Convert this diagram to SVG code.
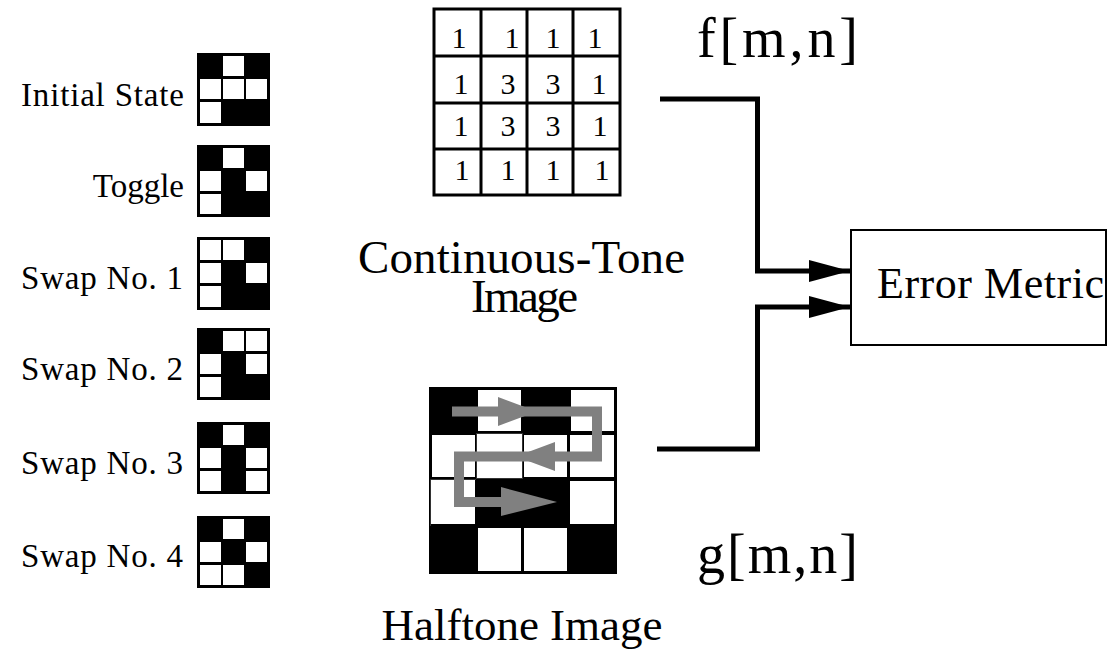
<svg xmlns="http://www.w3.org/2000/svg" width="1111" height="652" viewBox="0 0 1111 652">
  <defs>
    <style>
      .lbl { font-family: "Liberation Serif", "Times New Roman", serif; fill: #000; }
      .small { font-size: 33px; }
      .num { font-size: 30px; text-anchor: middle; }
      .big { font-size: 47px; }
      .sig { font-size: 56px; }
      .conn { fill: none; stroke: #000; stroke-width: 5; stroke-linejoin: miter; }
      .cell { fill: #fff; }
    </style>
    <marker id="arr" viewBox="0 0 41 22" refX="41" refY="11" markerWidth="41" markerHeight="22" markerUnits="userSpaceOnUse" orient="auto">
      <path d="M0,0 L41,11 L0,22 Z" fill="#000"/>
    </marker>
  </defs>

  <rect width="1111" height="652" fill="#fff"/>

  <!-- 3x3 pattern examples -->
  <g id="initial-state">
    <text class="lbl small" x="21" y="106" textLength="163" lengthAdjust="spacing">Initial State</text>
    <rect x="197" y="53" width="73" height="73" fill="#000"/>
    <rect class="cell" x="223" y="56" width="21" height="20"/>
    <rect class="cell" x="200" y="79" width="21" height="20"/>
    <rect class="cell" x="223" y="79" width="21" height="20"/>
    <rect class="cell" x="246" y="79" width="21" height="20"/>
    <rect class="cell" x="200" y="102" width="21" height="21"/>
  </g>
  <g id="toggle">
    <text class="lbl small" x="184" y="197" text-anchor="end">Toggle</text>
    <rect x="197" y="145" width="73" height="72" fill="#000"/>
    <rect class="cell" x="223" y="148" width="21" height="20"/>
    <rect class="cell" x="200" y="171" width="21" height="20"/>
    <rect class="cell" x="246" y="171" width="21" height="20"/>
    <rect class="cell" x="200" y="194" width="21" height="20"/>
  </g>
  <g id="swap-1">
    <text class="lbl small" x="21" y="289" textLength="162" lengthAdjust="spacing">Swap No. 1</text>
    <rect x="197" y="237" width="73" height="73" fill="#000"/>
    <rect class="cell" x="200" y="240" width="21" height="20"/>
    <rect class="cell" x="223" y="240" width="21" height="20"/>
    <rect class="cell" x="200" y="263" width="21" height="20"/>
    <rect class="cell" x="246" y="263" width="21" height="20"/>
    <rect class="cell" x="200" y="286" width="21" height="21"/>
  </g>
  <g id="swap-2">
    <text class="lbl small" x="21" y="380" textLength="162" lengthAdjust="spacing">Swap No. 2</text>
    <rect x="197" y="328" width="73" height="72" fill="#000"/>
    <rect class="cell" x="223" y="331" width="21" height="20"/>
    <rect class="cell" x="246" y="331" width="21" height="20"/>
    <rect class="cell" x="200" y="354" width="21" height="20"/>
    <rect class="cell" x="246" y="354" width="21" height="20"/>
    <rect class="cell" x="200" y="377" width="21" height="20"/>
  </g>
  <g id="swap-3">
    <text class="lbl small" x="21" y="474" textLength="162" lengthAdjust="spacing">Swap No. 3</text>
    <rect x="197" y="422" width="73" height="72" fill="#000"/>
    <rect class="cell" x="223" y="425" width="21" height="20"/>
    <rect class="cell" x="200" y="448" width="21" height="20"/>
    <rect class="cell" x="246" y="448" width="21" height="20"/>
    <rect class="cell" x="200" y="471" width="21" height="20"/>
    <rect class="cell" x="246" y="471" width="21" height="20"/>
  </g>
  <g id="swap-4">
    <text class="lbl small" x="21" y="567" textLength="162" lengthAdjust="spacing">Swap No. 4</text>
    <rect x="197" y="516" width="73" height="72" fill="#000"/>
    <rect class="cell" x="223" y="519" width="21" height="20"/>
    <rect class="cell" x="200" y="542" width="21" height="20"/>
    <rect class="cell" x="246" y="542" width="21" height="20"/>
    <rect class="cell" x="200" y="565" width="21" height="20"/>
    <rect class="cell" x="223" y="565" width="21" height="20"/>
  </g>

  <!-- continuous-tone image f[m,n] -->
  <g id="continuous-tone">
    <g fill="none" stroke="#000" stroke-width="3">
      <rect x="434" y="9" width="186" height="186"/>
      <path d="M481,9 V195 M527,9 V195 M573,9 V195 M434,56 H620 M434,103 H620 M434,149 H620"/>
    </g>
    <g class="lbl num">
      <text x="459" y="48">1</text><text x="512" y="48">1</text><text x="553" y="48">1</text><text x="595" y="48">1</text>
      <text x="461" y="94">1</text><text x="508" y="94">3</text><text x="553" y="94">3</text><text x="599" y="94">1</text>
      <text x="461" y="136">1</text><text x="508" y="136">3</text><text x="553" y="136">3</text><text x="600" y="136">1</text>
      <text x="462" y="180">1</text><text x="508" y="180">1</text><text x="553" y="180">1</text><text x="602" y="180">1</text>
    </g>
    <text class="lbl big" x="358" y="273" textLength="327" lengthAdjust="spacing">Continuous-Tone</text>
    <text class="lbl big" x="471" y="312" textLength="107" lengthAdjust="spacing">Image</text>
    <text class="lbl sig" x="697" y="57" textLength="161" lengthAdjust="spacing">f[m,n]</text>
  </g>

  <!-- halftone image g[m,n] with scan path -->
  <g id="halftone">
    <rect x="429" y="387" width="188" height="187" fill="#000"/>
    <g class="cell">
      <rect x="478" y="390" width="43" height="41"/>
      <rect x="571" y="390" width="43" height="41"/>
      <rect x="432" y="435" width="43" height="42"/>
      <rect x="477" y="434" width="46" height="44"/>
      <rect x="524" y="435" width="43" height="42"/>
      <rect x="570" y="435" width="44" height="42"/>
      <rect x="431" y="480" width="44" height="44"/>
      <rect x="570" y="481" width="44" height="43"/>
      <rect x="478" y="528" width="43" height="43"/>
      <rect x="524" y="528" width="43" height="43"/>
    </g>
    <rect x="476.5" y="433.5" width="46" height="45" fill="none" stroke="#333" stroke-width="1"/>
    <path d="M430.5,526 V479.5 H476" fill="none" stroke="#333" stroke-width="1"/>
    <g fill="#808080">
      <path d="M452,411.5 H597 V456.5 H459 V502 H505" fill="none" stroke="#808080" stroke-width="10"/>
      <polygon points="498,397 537,411.5 498,426"/>
      <polygon points="555,442 516,456.5 555,471"/>
      <polygon points="501,487 557,502 501,516"/>
    </g>
    <text class="lbl" x="522" y="640" font-size="45" text-anchor="middle">Halftone Image</text>
    <text class="lbl sig" x="697" y="573" textLength="161" lengthAdjust="spacing">g[m,n]</text>
  </g>

  <!-- comparison block -->
  <g id="error-metric">
    <rect x="851" y="230" width="255" height="115" fill="#fff" stroke="#000" stroke-width="2"/>
    <text class="lbl" x="877" y="298" font-size="44" textLength="227" lengthAdjust="spacing">Error Metric</text>
  </g>

  <!-- signal paths into the metric -->
  <g id="connectors">
    <path class="conn" d="M660,99 H757.5 V271 H850" marker-end="url(#arr)"/>
    <path class="conn" d="M657,449 H757.5 V307 H850" marker-end="url(#arr)"/>
  </g>
</svg>
